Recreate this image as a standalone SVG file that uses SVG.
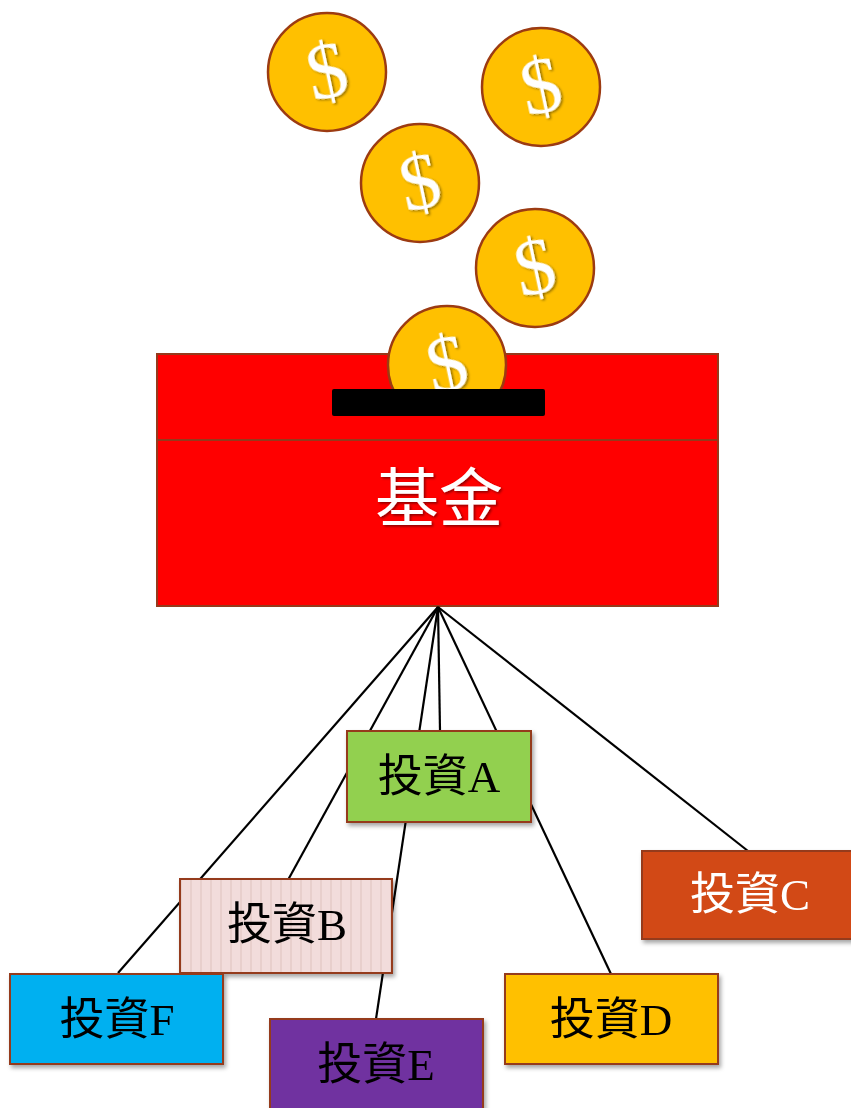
<svg xmlns="http://www.w3.org/2000/svg" width="851" height="1108" viewBox="0 0 851 1108">
  <style>
    .coin { fill: #FFC000; stroke: #9C3B12; stroke-width: 2.5; }
    .dollar { font-family: "Liberation Serif", serif; font-size: 80px; fill: #FFFFFF; text-anchor: middle; }
    .box { stroke: #953A1C; stroke-width: 2; }
    .label { font-family: "Liberation Serif", "Noto Sans CJK TC", serif; font-size: 45px; text-anchor: middle; dominant-baseline: central; }
    .link { stroke: #000000; stroke-width: 2.2; fill: none; }
  </style>
  <defs>
    <filter id="textShadow" x="-20%" y="-20%" width="140%" height="140%">
      <feDropShadow dx="1.5" dy="1.5" stdDeviation="1" flood-color="#000000" flood-opacity="0.45"/>
    </filter>
    <filter id="boxShadow" x="-10%" y="-10%" width="130%" height="130%">
      <feDropShadow dx="2" dy="3" stdDeviation="2" flood-color="#000000" flood-opacity="0.35"/>
    </filter>
    <pattern id="stripes" width="10" height="10" patternUnits="userSpaceOnUse">
      <rect width="10" height="10" fill="#F2DCDB"/>
      <rect x="0" width="2" height="10" fill="#E8CFCC"/>
    </pattern>
    <clipPath id="slotClip">
      <rect x="380" y="290" width="140" height="110"/>
    </clipPath>
  </defs>

  <rect width="851" height="1108" fill="#FFFFFF"/>

  <!-- falling coins -->
  <g id="coin-1">
    <circle class="coin" cx="327" cy="72" r="59"/>
    <text class="dollar" x="327" y="98" transform="rotate(-12 327 72)" filter="url(#textShadow)">$</text>
  </g>
  <g id="coin-2">
    <circle class="coin" cx="541" cy="87" r="59"/>
    <text class="dollar" x="541" y="113" transform="rotate(-12 541 87)" filter="url(#textShadow)">$</text>
  </g>
  <g id="coin-3">
    <circle class="coin" cx="420" cy="183" r="59"/>
    <text class="dollar" x="420" y="209" transform="rotate(-12 420 183)" filter="url(#textShadow)">$</text>
  </g>
  <g id="coin-4">
    <circle class="coin" cx="535" cy="268" r="59"/>
    <text class="dollar" x="535" y="294" transform="rotate(-12 535 268)" filter="url(#textShadow)">$</text>
  </g>

  <!-- fund box -->
  <g id="fund">
    <rect class="box" x="157" y="354" width="561" height="86" fill="#FF0000"/>
    <rect class="box" x="157" y="440" width="561" height="166" fill="#FF0000"/>
    <g id="coin-5" clip-path="url(#slotClip)">
      <circle class="coin" cx="447" cy="365" r="59"/>
      <text class="dollar" x="447" y="391" transform="rotate(-12 447 365)" filter="url(#textShadow)">$</text>
    </g>
    <rect x="332" y="389" width="213" height="27" rx="2" fill="#000000"/>
    <text x="439" y="499" font-family="'Liberation Serif', 'Noto Sans CJK TC', serif" font-size="64" fill="#FFFFFF" text-anchor="middle" dominant-baseline="central" filter="url(#textShadow)">基金</text>
  </g>

  <!-- connectors from the fund to each investment -->
  <g id="connectors">
    <line class="link" x1="438" y1="607" x2="118" y2="973"/>
    <line class="link" x1="438" y1="607" x2="288" y2="880"/>
    <line class="link" x1="438" y1="607" x2="376" y2="1019"/>
    <line class="link" x1="438" y1="607" x2="440" y2="731"/>
    <line class="link" x1="438" y1="607" x2="611" y2="974"/>
    <line class="link" x1="438" y1="607" x2="748" y2="851"/>
  </g>

  <!-- investments -->
  <g id="inv-a" filter="url(#boxShadow)">
    <rect class="box" x="347" y="731" width="184" height="91" fill="#92D050"/>
    <text class="label" x="439" y="777" fill="#000000">投資A</text>
  </g>
  <g id="inv-c" filter="url(#boxShadow)">
    <rect class="box" x="642" y="851" width="215" height="88" fill="#D24A16" stroke="#C9421A"/>
    <text class="label" x="750" y="895" fill="#FFFFFF">投資C</text>
  </g>
  <g id="inv-b" filter="url(#boxShadow)">
    <rect class="box" x="180" y="879" width="212" height="94" fill="url(#stripes)"/>
    <text class="label" x="287" y="925" fill="#000000">投資B</text>
  </g>
  <g id="inv-d" filter="url(#boxShadow)">
    <rect class="box" x="505" y="974" width="213" height="90" fill="#FFC000"/>
    <text class="label" x="611" y="1020" fill="#000000">投資D</text>
  </g>
  <g id="inv-f" filter="url(#boxShadow)">
    <rect class="box" x="10" y="974" width="213" height="90" fill="#00B0F0"/>
    <text class="label" x="117" y="1020" fill="#000000">投資F</text>
  </g>
  <g id="inv-e" filter="url(#boxShadow)">
    <rect class="box" x="270" y="1019" width="213" height="95" fill="#7030A0"/>
    <text class="label" x="376" y="1065" fill="#000000">投資E</text>
  </g>
</svg>
